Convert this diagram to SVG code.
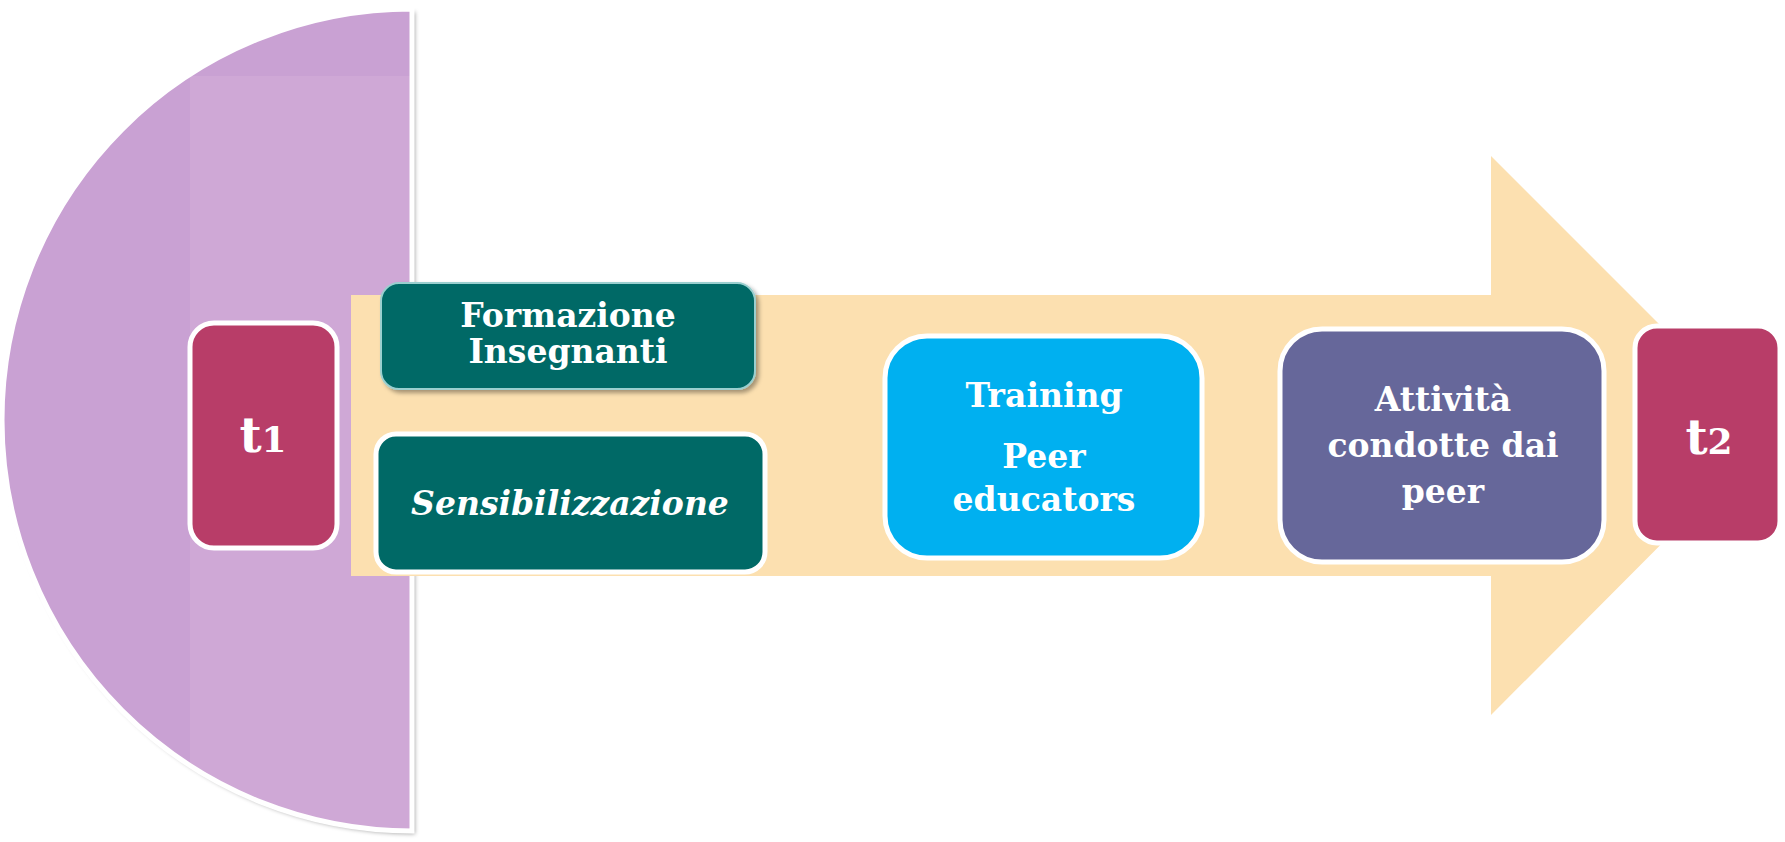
<svg xmlns="http://www.w3.org/2000/svg" width="1785" height="842" viewBox="0 0 1785 842">
<defs>
<style>
.lbl{font-family:"DejaVu Serif","Liberation Serif",serif;font-weight:bold;fill:#ffffff;text-anchor:middle;font-size:33px}
.tt{font-size:48px}
.box{stroke:#ffffff;stroke-width:5}
</style>
<filter id="sh" x="-10%" y="-10%" width="130%" height="130%">
<feDropShadow dx="3" dy="3" stdDeviation="2" flood-color="#000" flood-opacity="0.35"/>
</filter>
<clipPath id="semi"><path d="M412,9 A410,411 0 0 0 412,831 Z"/></clipPath>
</defs>
<rect width="1785" height="842" fill="#ffffff"/>
<g id="semicircle">
<path d="M412,9 A410,411 0 0 0 412,831 Z" fill="#C9A1D3" filter="url(#sh)"/>
<rect x="190" y="76" width="222" height="755" fill="#CFA8D6" clip-path="url(#semi)"/>
<path d="M412,9 A410,411 0 0 0 412,831 Z" fill="none" stroke="#ffffff" stroke-width="5"/>
</g>
<g id="arrow">
<path d="M351,295 L1491,295 L1491,156 L1770,435 L1491,715 L1491,576 L351,576 Z" fill="#FCE0B0"/>
</g>
<g id="connectors"></g>
<g id="t1">
<rect class="box" x="190" y="323" width="147" height="225" rx="24" fill="#B83D68"/>
<text class="lbl tt" x="263" y="452">t<tspan font-size="36">1</tspan></text>
</g>
<g id="formazione">
<rect x="381" y="283" width="374" height="106" rx="18" fill="#006966" stroke="#9ACFCF" stroke-width="2" filter="url(#sh)"/>
<text class="lbl" x="568" y="327">Formazione</text>
<text class="lbl" x="568" y="363">Insegnanti</text>
</g>
<g id="sensibilizzazione">
<rect class="box" x="376" y="434" width="389" height="138" rx="20" fill="#006966"/>
<text class="lbl" x="570" y="515" font-style="italic">Sensibilizzazione</text>
</g>
<g id="training">
<rect class="box" x="885" y="336" width="317" height="222" rx="42" fill="#00B0F0"/>
<text class="lbl" x="1044" y="407">Training</text>
<text class="lbl" x="1044" y="468">Peer</text>
<text class="lbl" x="1044" y="511">educators</text>
</g>
<g id="attivita">
<rect class="box" x="1280" y="329" width="324" height="233" rx="42" fill="#66679A"/>
<text class="lbl" x="1443" y="411">Attività</text>
<text class="lbl" x="1443" y="457">condotte dai</text>
<text class="lbl" x="1443" y="503">peer</text>
</g>
<g id="t2">
<rect class="box" x="1635" y="326" width="145" height="217" rx="22" fill="#B83D68"/>
<text class="lbl tt" x="1709" y="454">t<tspan font-size="36">2</tspan></text>
</g>
</svg>
